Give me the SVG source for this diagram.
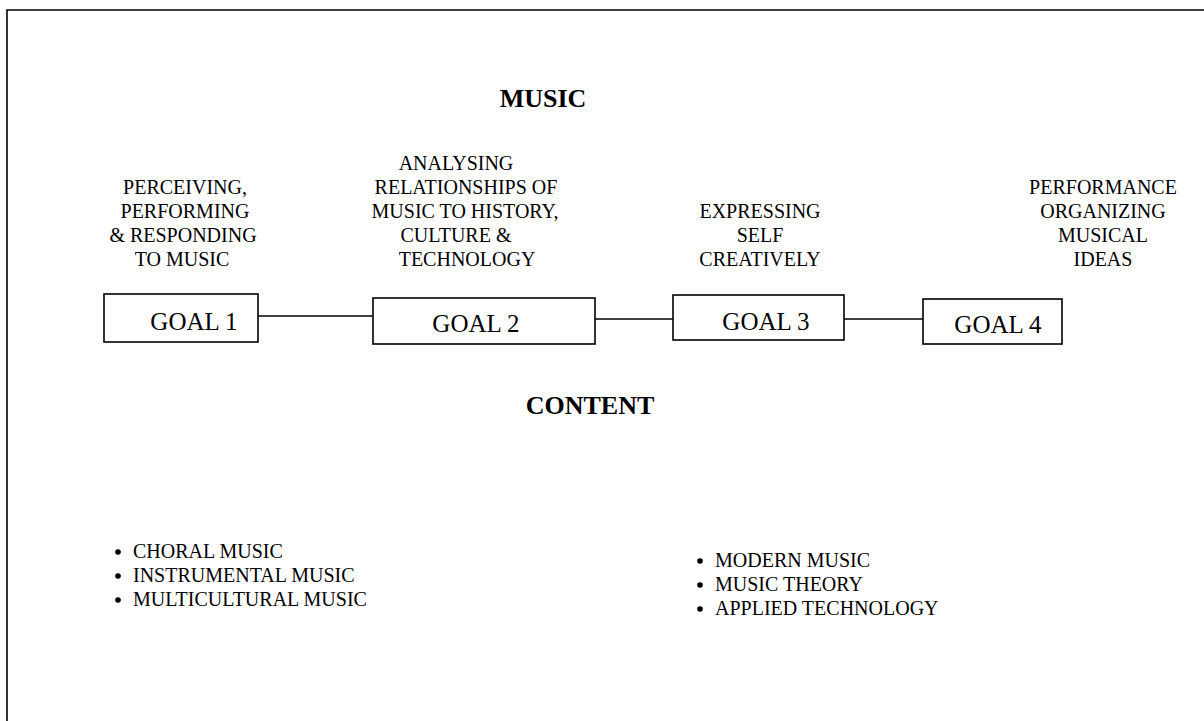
<svg xmlns="http://www.w3.org/2000/svg" width="1204" height="721" viewBox="0 0 1204 721">
<style>
.t{font-family:"Liberation Serif","Times New Roman",serif;fill:#000}
.lab{font-size:20px;text-anchor:middle}
.goal{font-size:25px;text-anchor:middle}
.head{font-size:26px;font-weight:bold;text-anchor:middle}
.item{font-size:20px}
.box{fill:#fff;stroke:#000;stroke-width:1.6}
.conn{stroke:#000;stroke-width:1.6;fill:none}
.bul{fill:#000}
</style>
<rect width="1204" height="721" fill="#fff"/>
<g id="frame"><path class="conn" d="M7 721 V10 H1204" stroke-width="2"/></g>
<text class="t head" x="543" y="107">MUSIC</text>
<g id="connectors">
<line class="conn" x1="258" y1="316" x2="373" y2="316"/>
<line class="conn" x1="595" y1="319" x2="673" y2="319"/>
<line class="conn" x1="844" y1="319" x2="923" y2="319"/>
</g>
<g id="goal1">
<text class="t lab"><tspan x="185" y="194">PERCEIVING,</tspan><tspan x="185" y="218">PERFORMING</tspan><tspan x="183" y="242">&amp; RESPONDING</tspan><tspan x="182" y="266">TO MUSIC</tspan></text>
<rect class="box" x="104" y="294" width="154" height="48"/>
<text class="t goal" x="194" y="330">GOAL 1</text>
</g>
<g id="goal2">
<text class="t lab"><tspan x="456" y="170">ANALYSING</tspan><tspan x="466" y="194">RELATIONSHIPS OF</tspan><tspan x="465" y="218">MUSIC TO HISTORY,</tspan><tspan x="456" y="242">CULTURE &amp;</tspan><tspan x="467" y="266">TECHNOLOGY</tspan></text>
<rect class="box" x="373" y="298" width="222" height="46"/>
<text class="t goal" x="476" y="332">GOAL 2</text>
</g>
<g id="goal3">
<text class="t lab"><tspan x="760" y="218">EXPRESSING</tspan><tspan x="760" y="242">SELF</tspan><tspan x="760" y="266">CREATIVELY</tspan></text>
<rect class="box" x="673" y="295" width="171" height="45"/>
<text class="t goal" x="766" y="330">GOAL 3</text>
</g>
<g id="goal4">
<text class="t lab"><tspan x="1103" y="194">PERFORMANCE</tspan><tspan x="1103" y="218">ORGANIZING</tspan><tspan x="1103" y="242">MUSICAL</tspan><tspan x="1103" y="266">IDEAS</tspan></text>
<rect class="box" x="923" y="299" width="139" height="45"/>
<text class="t goal" x="998" y="333">GOAL 4</text>
</g>
<text class="t head" x="590" y="414">CONTENT</text>
<g id="content-left">
<circle class="bul" cx="118" cy="552" r="2.8"/><text class="t item" x="133" y="558">CHORAL MUSIC</text>
<circle class="bul" cx="118" cy="576" r="2.8"/><text class="t item" x="133" y="582">INSTRUMENTAL MUSIC</text>
<circle class="bul" cx="118" cy="600" r="2.8"/><text class="t item" x="133" y="606">MULTICULTURAL MUSIC</text>
</g>
<g id="content-right">
<circle class="bul" cx="700" cy="561" r="2.8"/><text class="t item" x="715" y="567">MODERN MUSIC</text>
<circle class="bul" cx="700" cy="585" r="2.8"/><text class="t item" x="715" y="591">MUSIC THEORY</text>
<circle class="bul" cx="700" cy="609" r="2.8"/><text class="t item" x="715" y="615">APPLIED TECHNOLOGY</text>
</g>
</svg>
